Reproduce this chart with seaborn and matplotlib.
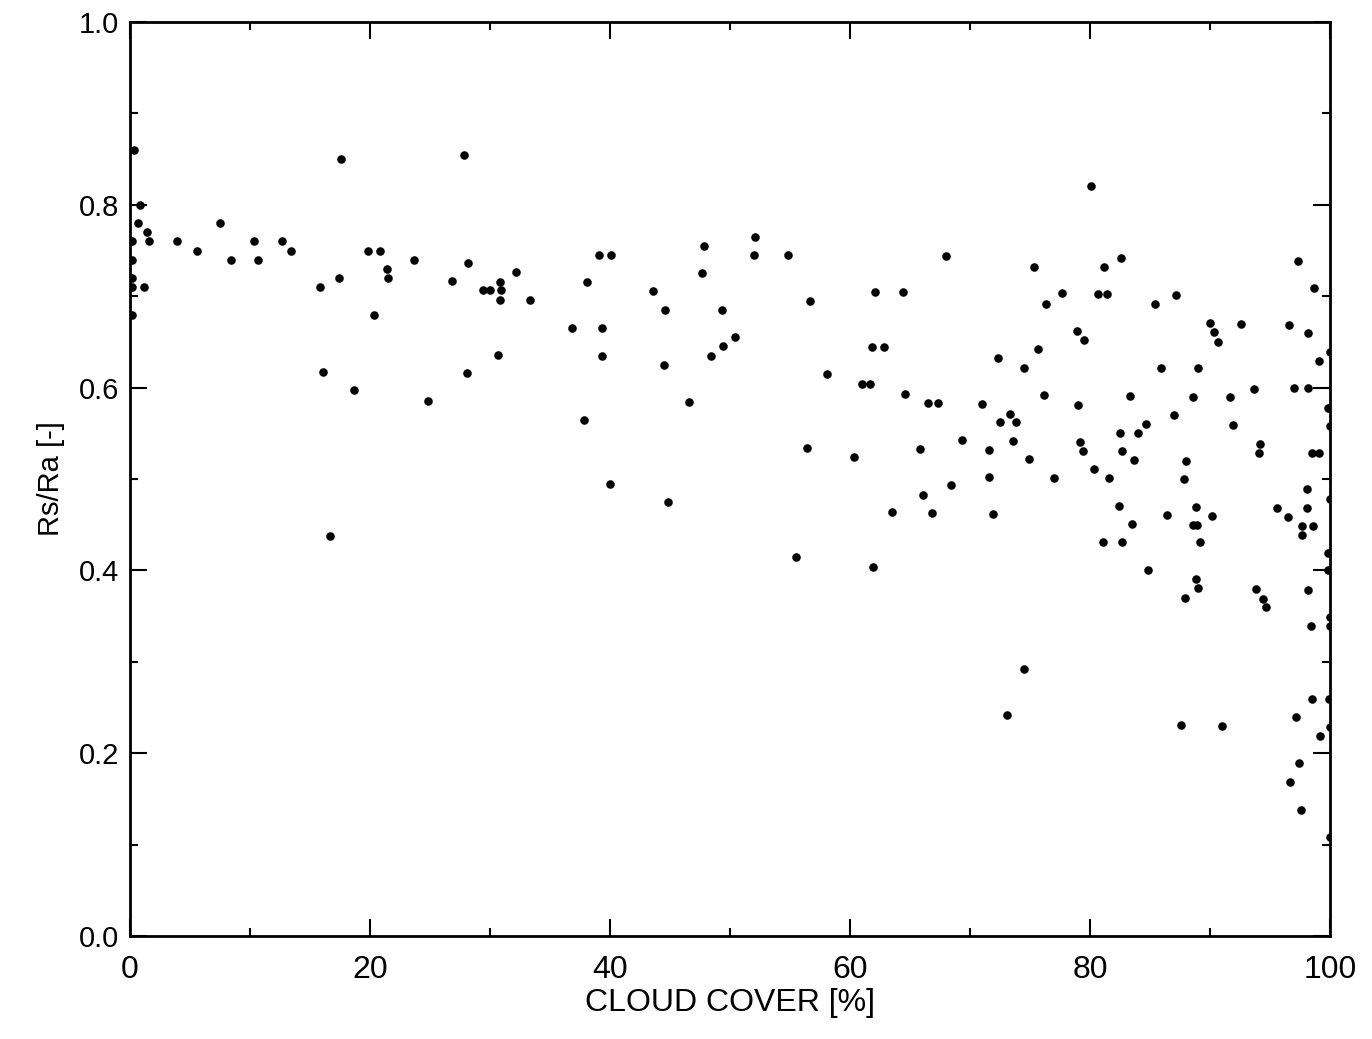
import numpy as np
import pandas as pd
import matplotlib
matplotlib.use("Agg")
import matplotlib.pyplot as plt
import seaborn as sns
from matplotlib.ticker import MultipleLocator

# cloud cover [%] and Rs/Ra [-]
cloud_cover = [
    0.3, 0.8, 0.7, 1.4, 1.6, 0.2, 0.2, 0.2, 0.2, 1.2, 0.2,
    3.9, 5.6, 7.5, 8.4, 10.3, 10.7, 12.7, 13.4, 15.8, 17.4, 17.6,
    19.8, 20.8, 21.4, 21.5, 20.3, 23.7, 16.1, 18.7, 24.8, 16.7,
    27.8, 28.2, 26.8, 30.8, 29.4, 30.0, 30.9, 30.8, 32.2, 33.3, 30.7,
    28.1, 36.8, 39.3, 39.1, 40.1, 38.1, 39.3, 43.6, 44.6, 44.5,
    47.8, 47.7, 49.3, 50.4, 49.4, 48.4, 37.8, 40.0, 46.6, 44.8,
    52.1, 52.0, 54.8, 56.7, 68.0, 75.3, 62.1, 64.4, 61.8, 62.8,
    72.3, 74.5, 75.7,
    58.1, 61.0, 61.7, 64.6, 66.5, 67.3, 71.0, 73.3, 72.5, 73.8,
    69.3, 73.6, 56.4, 65.8, 71.6, 74.9, 60.3, 71.6, 68.4, 66.1,
    63.5, 66.8, 71.9, 55.5, 61.9, 74.5, 73.1,
    80.1, 82.6, 81.2, 77.7, 76.3, 80.7, 81.4, 85.4, 87.2, 78.9,
    79.5, 90.0, 90.3, 90.7, 92.6, 96.6, 97.3, 98.7, 98.2, 100.0,
    99.1, 85.9, 89.0,
    76.2, 83.3, 88.6, 91.7, 93.7, 97.0, 98.2, 79.0, 99.8, 100.0,
    100.0, 87.0, 84.7, 82.5, 84.0, 91.9, 79.2, 79.4, 82.7, 94.2,
    94.1, 98.5, 99.1, 83.7, 88.0, 80.3, 77.0, 81.6, 87.8, 98.1,
    100.0, 82.4, 88.8, 95.6, 98.1, 86.4, 90.2, 96.5, 83.5, 88.6,
    88.9, 97.7, 98.6, 97.7, 81.1, 82.7, 89.2, 99.8, 100.0, 99.8,
    84.8, 88.8, 89.0, 87.9, 93.8, 94.4, 94.7, 98.2,
    100.0, 100.0, 98.4, 98.5, 99.9, 97.2, 87.6, 91.0, 100.0, 99.2,
    97.4, 96.7, 97.6, 100.0,
]
rs_ra = [
    0.86, 0.80, 0.78, 0.77, 0.76, 0.76, 0.74, 0.72, 0.71, 0.71, 0.68,
    0.76, 0.75, 0.78, 0.74, 0.76, 0.74, 0.76, 0.75, 0.71, 0.72, 0.85,
    0.75, 0.75, 0.73, 0.72, 0.68, 0.74, 0.617, 0.597, 0.585, 0.438,
    0.854, 0.736, 0.717, 0.716, 0.707, 0.707, 0.707, 0.696, 0.727, 0.696, 0.636,
    0.616, 0.665, 0.665, 0.745, 0.745, 0.716, 0.635, 0.706, 0.685, 0.625,
    0.755, 0.725, 0.685, 0.655, 0.646, 0.635, 0.565, 0.495, 0.584, 0.475,
    0.765, 0.745, 0.745, 0.695, 0.744, 0.732, 0.705, 0.705, 0.644, 0.644,
    0.632, 0.622, 0.642,
    0.615, 0.604, 0.604, 0.593, 0.583, 0.583, 0.582, 0.571, 0.562, 0.562,
    0.543, 0.542, 0.534, 0.533, 0.532, 0.522, 0.524, 0.502, 0.493, 0.482,
    0.464, 0.463, 0.462, 0.415, 0.404, 0.292, 0.242,
    0.821, 0.742, 0.732, 0.703, 0.692, 0.702, 0.702, 0.691, 0.701, 0.662,
    0.652, 0.671, 0.661, 0.650, 0.670, 0.669, 0.739, 0.709, 0.660, 0.639,
    0.629, 0.621, 0.621,
    0.592, 0.591, 0.590, 0.590, 0.599, 0.600, 0.600, 0.581, 0.578, 0.578,
    0.558, 0.570, 0.560, 0.550, 0.550, 0.559, 0.540, 0.531, 0.531, 0.538,
    0.529, 0.529, 0.529, 0.521, 0.520, 0.511, 0.501, 0.501, 0.500, 0.489,
    0.478, 0.470, 0.469, 0.468, 0.468, 0.461, 0.460, 0.459, 0.451, 0.450,
    0.450, 0.449, 0.449, 0.439, 0.431, 0.431, 0.431, 0.419, 0.419, 0.400,
    0.401, 0.391, 0.381, 0.370, 0.380, 0.369, 0.360, 0.379,
    0.349, 0.339, 0.339, 0.259, 0.259, 0.240, 0.231, 0.230, 0.229, 0.219,
    0.189, 0.168, 0.138, 0.108,
]

df = pd.DataFrame({"cloud": cloud_cover, "ratio": rs_ra})

sns.set_style("ticks")
plt.rcParams["font.family"] = ["Liberation Sans", "DejaVu Sans"]
plt.rcParams["axes.labelcolor"] = "black"

fig = plt.figure(figsize=(13.72, 10.39), dpi=100)
ax = fig.add_axes([0.0948, 0.0991, 0.8746, 0.8797])

sns.scatterplot(
    data=df,
    x="cloud",
    y="ratio",
    color="black",
    marker="o",
    s=38,
    edgecolor="black",
    linewidth=0,
    ax=ax
)

ax.set_xlim(0, 100)
ax.set_ylim(0, 1.0)
ax.xaxis.set_major_locator(MultipleLocator(20))
ax.xaxis.set_minor_locator(MultipleLocator(10))
ax.yaxis.set_major_locator(MultipleLocator(0.2))
ax.yaxis.set_minor_locator(MultipleLocator(0.1))
ax.yaxis.set_major_formatter(matplotlib.ticker.FormatStrFormatter("%.1f"))

ax.tick_params(which="both", direction="in", top=True, right=True,
               colors="black", width=1.5)
ax.tick_params(which="major", length=12, pad=8)
ax.tick_params(which="minor", length=6)
ax.tick_params(axis="x", which="major", labelsize=23, pad=14)
ax.tick_params(axis="y", which="major", labelsize=21)

for sp in ax.spines.values():
    sp.set_visible(True)
    sp.set_linewidth(2)
    sp.set_color("black")

ax.set_xlabel("CLOUD COVER [%]", fontsize=23, labelpad=2)
ax.set_ylabel("Rs/Ra [-]", fontsize=21, labelpad=10)

plt.savefig("out.png", dpi=100)
plt.close()
